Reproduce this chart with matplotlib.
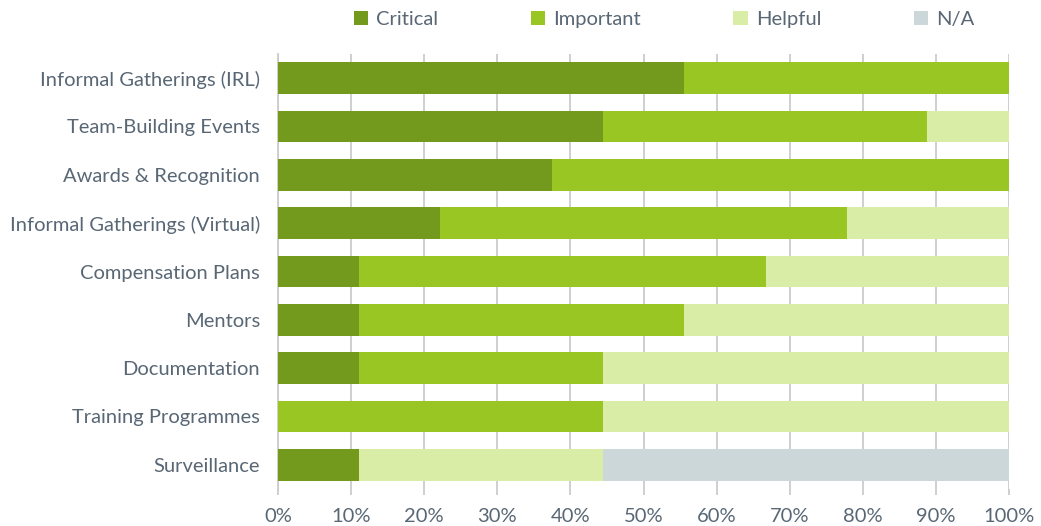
import numpy as np
import matplotlib.pyplot as plt

plt.rcParams['font.family'] = ['Lato', 'DejaVu Sans']

# ----------- data (percent of respondents) ---------
categories = ['Informal Gatherings (IRL)', 'Team-Building Events', 'Awards & Recognition',
              'Informal Gatherings (Virtual)', 'Compensation Plans', 'Mentors',
              'Documentation', 'Training Programmes', 'Surveillance']
critical  = [55.6, 44.4, 37.5, 22.2, 11.1, 11.1, 11.1, 0.0, 11.1]
important = [44.4, 44.4, 62.5, 55.6, 55.6, 44.4, 33.3, 44.4, 0.0]
helpful   = [0.0, 11.2, 0.0, 22.2, 33.3, 44.5, 55.6, 55.6, 33.3]
na        = [0.0, 0.0, 0.0, 0.0, 0.0, 0.0, 0.0, 0.0, 55.6]

series = [('Critical', critical, '#739a1c'),
          ('Important', important, '#9ac623'),
          ('Helpful', helpful, '#daeda6'),
          ('N/A', na, '#cbd7d8')]

txt = '#596775'

fig = plt.figure(figsize=(10.41, 5.26), dpi=100)
ax = fig.add_axes([278/1041, 1-489/526, 731/1041, 435/526])

y = np.arange(len(categories))
left = np.zeros(len(categories))
for name, vals, col in series:
    vals = np.array(vals)
    ax.barh(y, vals, left=left, height=0.66, color=col, label=name, zorder=3)
    left += vals

ax.set_xlim(0, 100)
ax.set_ylim(len(categories) - 0.5, -0.5)
ax.set_yticks(y)
ax.set_yticklabels(categories)
ax.set_xticks(np.arange(0, 101, 10))
ax.set_xticklabels([f'{v}%' for v in range(0, 101, 10)])
ax.xaxis.grid(True, color='#cccccc', lw=1.3, zorder=0)
ax.tick_params(axis='y', length=0, pad=13, labelsize=14.5, labelcolor=txt)
ax.tick_params(axis='x', length=4.5, width=1.3, color='#cccccc', pad=9, labelsize=14.5, labelcolor=txt)
for s in ['top', 'right', 'bottom']:
    ax.spines[s].set_visible(False)
ax.spines['left'].set_color('#cccccc')
ax.spines['left'].set_linewidth(1.3)

leg = fig.legend(loc='center', bbox_to_anchor=(0.638, 0.963), ncol=4, frameon=False,
                 fontsize=14.5, handlelength=0.7, handleheight=0.7, columnspacing=4.6,
                 handletextpad=0.4)
for t in leg.get_texts():
    t.set_color(txt)

fig.savefig('out.png', dpi=100)
